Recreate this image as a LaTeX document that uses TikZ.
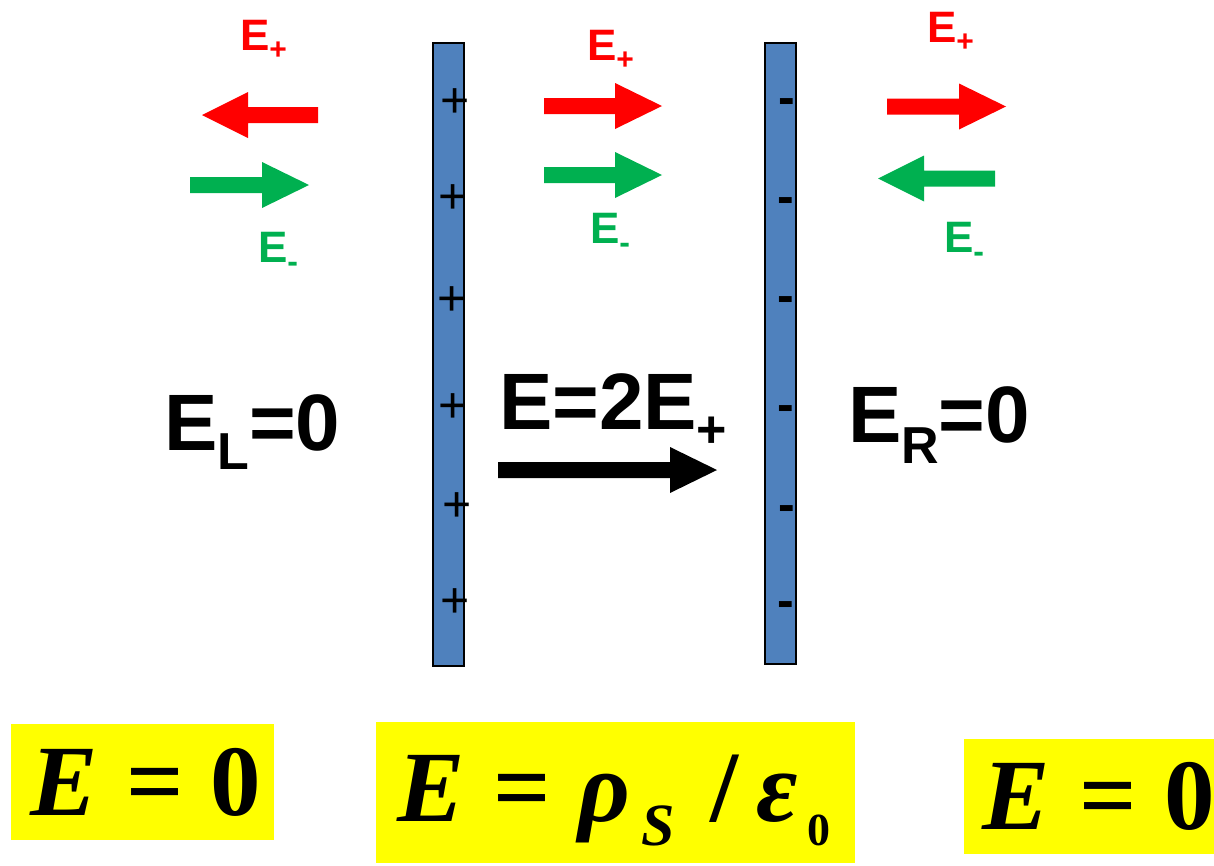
\documentclass[tikz,border=0pt]{standalone}
\usepackage{fontspec}
\setmainfont{Liberation Sans}
\newfontfamily\tnr{Liberation Serif}
\definecolor{ered}{HTML}{FF0000}
\definecolor{egreen}{HTML}{00B050}
\definecolor{plateblue}{HTML}{4F81BD}
\definecolor{hlyellow}{HTML}{FFFF00}
\newcommand{\lsub}[3]{\raisebox{-#1pt}{\fontsize{#2}{#2}\selectfont #3}}
% tail x, head-base x, tip x, centre y, colour
\newcommand{\blockarrow}[5]{\fill[#5] (#1,#4-8) -- (#2,#4-8) -- (#2,#4-23) -- (#3,#4) -- (#2,#4+23) -- (#2,#4+8) -- (#1,#4+8) -- cycle;}
\tikzset{
  plate/.style={fill=plateblue, draw=black, line width=2pt},
  chg/.style={anchor=base, font=\fontsize{50}{50}\selectfont},
  biglabel/.style={anchor=base west, font=\fontsize{80}{80}\selectfont\bfseries},
  smalllabel/.style={anchor=base west, font=\fontsize{44}{44}\selectfont\bfseries},
  formula/.style={anchor=base west, font=\tnr\fontsize{101}{101}\selectfont\bfseries},
  hlbox/.style={fill=hlyellow}
}
\begin{document}
\begin{tikzpicture}[x=1pt,y=-1pt, every node/.style={inner sep=0pt, outer sep=0pt}]
\useasboundingbox (0,0) rectangle (1214,865);
% plates
\draw[plate] (433,43) rectangle (464,666);
\draw[plate] (765,43) rectangle (796,664);
% charges
\foreach \x/\y [count=\i] in {455/100,453/196,452/298,453/405,457/504,455/600}
  \node[chg] (p\i) at (\x,\y+17) {+};
\foreach \x/\y [count=\i] in {787/100,786/199,786/298,786/407,787/507,786/603}
  \node[chg, font=\fontsize{50}{50}\selectfont\bfseries] (m\i) at (\x,\y+14) {-};
% field arrows
\blockarrow{318}{248}{202}{115}{ered}
\blockarrow{190}{262}{309}{185}{egreen}
\blockarrow{544}{615}{662}{106}{ered}
\blockarrow{544}{615}{662}{175}{egreen}
\blockarrow{887}{959}{1006}{106.5}{ered}
\blockarrow{995}{924}{878}{178.5}{egreen}
\blockarrow{498}{670}{717}{470}{black}
% small labels
\node[smalllabel, text=ered] (ep1) at (240,50) {E\lsub{9}{30}{+}};
\node[smalllabel, text=ered] (ep2) at (587,60) {E\lsub{9}{30}{+}};
\node[smalllabel, text=ered] (ep3) at (927,42) {E\lsub{9}{30}{+}};
\node[smalllabel, text=egreen] (em1) at (258,262) {E\lsub{10}{32}{-}};
\node[smalllabel, text=egreen] (em2) at (590,243) {E\lsub{10}{32}{-}};
\node[smalllabel, text=egreen] (em3) at (944,252) {E\lsub{10}{32}{-}};
% big labels
\node[biglabel] (el) at (164,450) {E\lsub{19}{52}{L}=0};
\node[biglabel] (ein) at (499,429) {E=2E\lsub{18}{52}{+}};
\node[biglabel] (er) at (848,442) {E\lsub{21}{52}{R}=0};
% formula boxes
\fill[hlbox] (11,724) rectangle (274,840);
\fill[hlbox] (376,722) rectangle (855,863);
\fill[hlbox] (964,739) rectangle (1214,854);
\node[formula] (f1) at (30,815) {\itshape E\hspace{29pt}\upshape=\hspace{27pt}0};
\node[formula] (f2) at (397,821) {\itshape E\hspace{29pt}\upshape=\hspace{28pt}\itshape ρ\hspace{11pt}\lsub{24}{60}{S}\hspace{35pt}\upshape/\hspace{18pt}\itshape ε\hspace{10pt}\lsub{24}{46}{\upshape 0}};
\node[formula] (f3) at (982,829) {\itshape E\hspace{30pt}\upshape=\hspace{28pt}0};
\end{tikzpicture}
\end{document}
